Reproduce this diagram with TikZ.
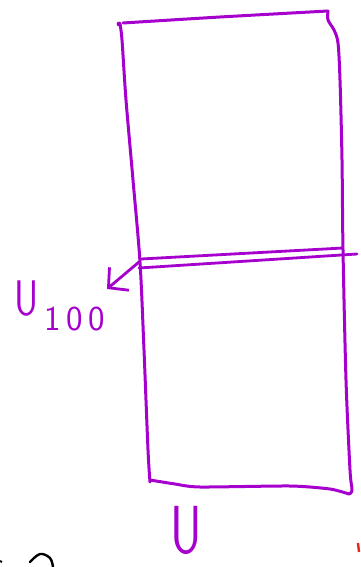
\documentclass[tikz,border=0pt]{standalone}
\usepackage{tikz}
\usepackage{graphicx}
\usetikzlibrary{arrows.meta,positioning}
\definecolor{Ink}{RGB}{165,0,205}
\definecolor{RedInk}{RGB}{230,40,30}
\tikzset{
  >=Latex,
  ink/.style={draw=Ink,line width=3pt,line cap=round,line join=round},
  band/.style={ink,line width=2.8pt},
  pointer/.style={ink,line width=2.8pt,-{Straight Barb[length=14pt,width=30pt,line width=2.8pt]}},
  hand/.style={text=Ink,font=\sffamily,inner sep=0pt}
}
\begin{document}
\begin{tikzpicture}[x=1pt,y=-1pt]
  \useasboundingbox (0,0) rectangle (360,567);
  % tall box, drawn freehand
  \draw[ink] plot[smooth,tension=.4] coordinates {(123,23) (220,17) (328,11)};
  \draw[ink] plot[smooth,tension=.5] coordinates {(328,11) (328,20) (334,30) (338,43) (340,80) (342,160) (343,250) (346,380) (350,470) (352,490) (349,494)};
  \draw[ink] plot[smooth,tension=.4] coordinates {(349,494) (330,489) (290,486) (200,487) (175,484) (150,480)};
  \draw[ink] plot[smooth,tension=.5] coordinates {(150,482) (148,450) (144,350) (140,262) (133,180) (126,100) (122,40) (120,24)};
  \fill[Ink] (119,24) circle (2.4pt);
  % thin slice across the middle
  \draw[band] (141,259) -- (343,248);
  \draw[band] (139,268) -- (357,254);
  \coordinate (slice) at (139,262);
  \coordinate (tip) at (107,289);
  \draw[pointer] (slice) -- (tip);
  \node[hand,font=\sffamily\fontsize{50}{50}\selectfont] (slab) at (60,306)
    {\scalebox{0.75}[1]{U}\textsubscript{\,1\,0\,0}};
  \node[hand,font=\sffamily\fontsize{68}{68}\selectfont] (whole) at (186,530) {\scalebox{0.72}[1]{U}};
  % cut-off strokes at the lower border
  \draw[line width=2.4pt,line cap=round] plot[smooth,tension=.6] coordinates {(30,562) (40,554) (50,558) (53,567)};
  \draw[line width=2pt] (0,561) -- (2,562);
  \draw[draw=RedInk,line width=2.4pt] (358,543) -- (359,552);
\end{tikzpicture}
\end{document}
